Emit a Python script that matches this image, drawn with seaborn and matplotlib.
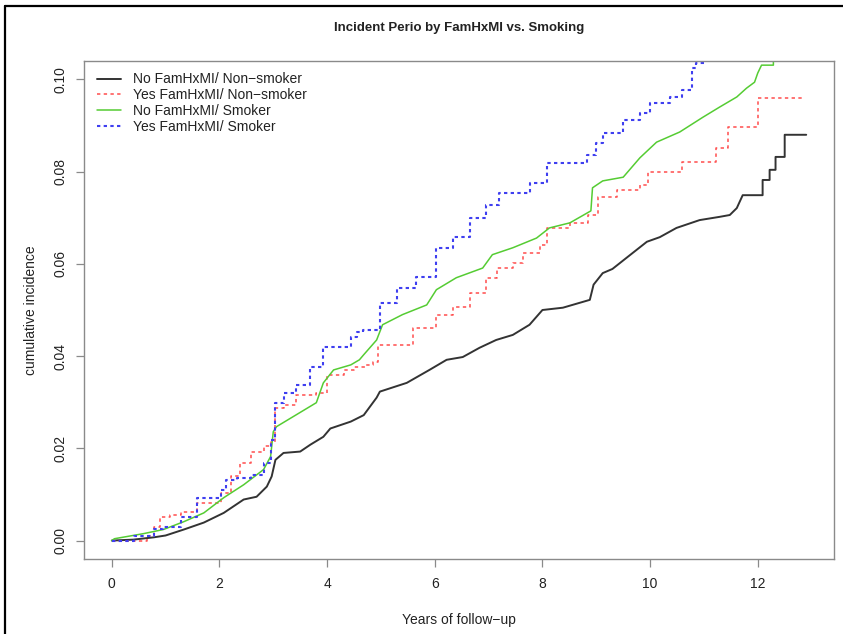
import matplotlib
matplotlib.use("Agg")
import matplotlib.pyplot as plt
from matplotlib.lines import Line2D
import seaborn as sns
import numpy as np

# ---------------- data ----------------
title = "Incident Perio by FamHxMI vs. Smoking"
xlabel = "Years of follow\u2212up"
ylabel = "cumulative incidence"
labels = ["No FamHxMI/ Non\u2212smoker", "Yes FamHxMI/ Non\u2212smoker",
          "No FamHxMI/ Smoker", "Yes FamHxMI/ Smoker"]
x_ticks = [0, 2, 4, 6, 8, 10, 12]
y_ticks = [0.00, 0.02, 0.04, 0.06, 0.08, 0.10]

no_non_x = [0, 0.4, 0.78, 1.0, 1.34, 1.71, 2.08, 2.45, 2.69, 2.88, 2.97, 3.04, 3.19, 3.5, 3.69,
            3.93, 4.06, 4.44, 4.68, 4.92, 4.98, 5.48, 5.9, 6.22, 6.52, 6.83, 7.14, 7.45, 7.76,
            8.0, 8.38, 8.88, 8.95, 9.12, 9.3, 9.56, 9.94, 10.18, 10.49, 10.92, 11.29, 11.48,
            11.61, 11.72, 12.09, 12.09, 12.22, 12.22, 12.33, 12.33, 12.5, 12.5, 12.9]
no_non_y = [0, 0.0002, 0.0007, 0.0011, 0.0024, 0.0039, 0.006, 0.0089, 0.0095, 0.0117, 0.0139,
            0.0175, 0.019, 0.0193, 0.0208, 0.0225, 0.0243, 0.0258, 0.0272, 0.031, 0.0323,
            0.0342, 0.037, 0.0392, 0.0398, 0.0418, 0.0435, 0.0446, 0.0468, 0.050, 0.0505,
            0.0522, 0.0555, 0.058, 0.0589, 0.0613, 0.0648, 0.0658, 0.0678, 0.0695, 0.0702,
            0.0706, 0.0721, 0.0749, 0.0749, 0.0782, 0.0782, 0.0804, 0.0804, 0.0832, 0.0832,
            0.088, 0.088]

yes_non_x = [0, 0.65, 0.78, 0.9, 1.09, 1.28, 1.58, 2.02, 2.21, 2.39, 2.58, 2.82, 2.95, 3.04,
             3.19, 3.43, 3.8, 3.99, 4.31, 4.5, 4.7, 4.85, 4.94, 5.6, 6.03, 6.34, 6.65, 6.96,
             7.15, 7.45, 7.64, 7.95, 8.08, 8.51, 8.85, 9.03, 9.38, 9.81, 9.96, 10.6, 11.22,
             11.44, 12.0, 12.87]
yes_non_y = [0, 0.001, 0.003, 0.0052, 0.0056, 0.0063, 0.0082, 0.0104, 0.0139, 0.0169, 0.0193,
             0.0204, 0.0214, 0.0288, 0.0295, 0.0316, 0.032, 0.036, 0.037, 0.0377, 0.0381,
             0.0388, 0.0424, 0.0461, 0.049, 0.0507, 0.0537, 0.057, 0.0591, 0.0602, 0.0624,
             0.0641, 0.0678, 0.0689, 0.0705, 0.0745, 0.076, 0.0771, 0.080, 0.0821, 0.0851,
             0.0897, 0.096, 0.096]

no_smk_x = [0, 0.05, 0.59, 0.96, 1.34, 1.71, 2.08, 2.45, 2.82, 2.95, 3.0, 3.06, 3.43, 3.8,
            3.93, 4.12, 4.44, 4.6, 4.68, 4.92, 5.03, 5.4, 5.85, 6.03, 6.4, 6.89, 7.07, 7.45,
            7.89, 8.13, 8.51, 8.9, 8.93, 9.12, 9.5, 9.81, 10.12, 10.55, 10.98, 11.29, 11.61,
            11.79, 11.94, 12.0, 12.07, 12.29, 12.29]
no_smk_y = [0, 0.0004, 0.0015, 0.0024, 0.0041, 0.006, 0.0093, 0.0121, 0.0154, 0.0182, 0.0236,
            0.0247, 0.0273, 0.0299, 0.0342, 0.037, 0.0381, 0.0392, 0.0403, 0.0435, 0.0468,
            0.049, 0.0511, 0.0544, 0.057, 0.0591, 0.062, 0.0635, 0.0656, 0.0678, 0.0689,
            0.0715, 0.0765, 0.078, 0.0788, 0.083, 0.0864, 0.0886, 0.0918, 0.094, 0.0962,
            0.0981, 0.0994, 0.1014, 0.1031, 0.1031, 0.107]

yes_smk_x = [0, 0.41, 0.78, 0.96, 1.28, 1.58, 2.02, 2.13, 2.32, 2.58, 2.82, 2.95, 3.04, 3.19,
             3.43, 3.69, 3.93, 4.44, 4.55, 4.66, 4.98, 5.29, 5.66, 6.03, 6.34, 6.65, 6.96,
             7.2, 7.76, 8.08, 8.82, 9.0, 9.12, 9.5, 9.81, 10.0, 10.37, 10.6, 10.77, 10.86, 11.05]
yes_smk_y = [0, 0.0009, 0.0024, 0.003, 0.0052, 0.0093, 0.011, 0.0132, 0.0136, 0.0143, 0.0169,
             0.0219, 0.0299, 0.032, 0.0338, 0.0377, 0.042, 0.0442, 0.0453, 0.0457, 0.0515,
             0.0548, 0.0572, 0.0635, 0.0658, 0.070, 0.0728, 0.0754, 0.0775, 0.0819, 0.0836,
             0.0862, 0.0884, 0.0912, 0.0927, 0.0949, 0.0962, 0.0977, 0.1025, 0.1035, 0.1035]

# ---------------- style ----------------
sns.set_style("white")
plt.rcParams["font.family"] = ["Liberation Sans", "DejaVu Sans"]
plt.rcParams["axes.unicode_minus"] = True

W, H = 843, 634
fig = plt.figure(figsize=(W / 100, H / 100), dpi=100)
ax = fig.add_axes([84 / W, 1 - 559 / H, (834 - 84) / W, (559 - 61) / H])

c_black = "#333333"
c_red = "#ff4d4d"
c_green = "#55cc33"
c_blue = "#3f3ff0"

sns.lineplot(x=no_non_x, y=no_non_y, ax=ax, color=c_black, lw=1.4,
             estimator=None, sort=False)
sns.lineplot(x=yes_non_x, y=yes_non_y, ax=ax, color=c_red, lw=1.1,
             estimator=None, sort=False, drawstyle="steps-post",
             linestyle=(0, (2.2, 2.2)))
sns.lineplot(x=no_smk_x, y=no_smk_y, ax=ax, color=c_green, lw=1.1,
             estimator=None, sort=False)
sns.lineplot(x=yes_smk_x, y=yes_smk_y, ax=ax, color=c_blue, lw=1.5,
             estimator=None, sort=False, drawstyle="steps-post",
             linestyle=(0, (1.6, 1.6)))

ax.set_xlim(-0.516, 13.416)
ax.set_ylim(-0.004, 0.104)
ax.set_xticks(x_ticks)
ax.set_xticklabels([str(t) for t in x_ticks])
ax.set_yticks(y_ticks)
ax.set_yticklabels([f"{t:.2f}" for t in y_ticks], rotation=90, va="center")

for s in ax.spines.values():
    s.set_color("#8a8a8a")
    s.set_linewidth(1.0)
ax.tick_params(axis="both", direction="out", length=6, width=0.9, color="#8a8a8a",
               labelsize=10, labelcolor="#222222", bottom=True, left=True)
ax.tick_params(axis="x", pad=7)
ax.tick_params(axis="y", pad=6)

ax.set_xlabel(xlabel, fontsize=10, color="#222222", labelpad=16)
ax.set_ylabel(ylabel, fontsize=10, color="#222222", labelpad=11)

handles = [
    Line2D([], [], color=c_black, lw=1.4),
    Line2D([], [], color=c_red, lw=1.1, linestyle=(0, (2.2, 2.2))),
    Line2D([], [], color=c_green, lw=1.1),
    Line2D([], [], color=c_blue, lw=1.5, linestyle=(0, (1.6, 1.6))),
]
ax.legend(handles, labels, loc="upper left", bbox_to_anchor=(0.0175, 0.977),
          frameon=False, fontsize=10, handlelength=1.7, handletextpad=0.9,
          labelspacing=0.13, borderpad=0, borderaxespad=0, labelcolor="#222222")

fig.text(459 / W, 1 - 28 / H, title, ha="center", va="center",
         fontsize=9.5, fontweight="bold", color="#222222")

# outer frame lines (top and left)
fig.add_artist(Line2D([5 / W, 5 / W], [0, 1 - 6 / H], transform=fig.transFigure,
                      color="black", lw=1.6))
fig.add_artist(Line2D([5 / W, 1], [1 - 6 / H, 1 - 6 / H], transform=fig.transFigure,
                      color="black", lw=1.6))

fig.savefig("out.png", dpi=100)
